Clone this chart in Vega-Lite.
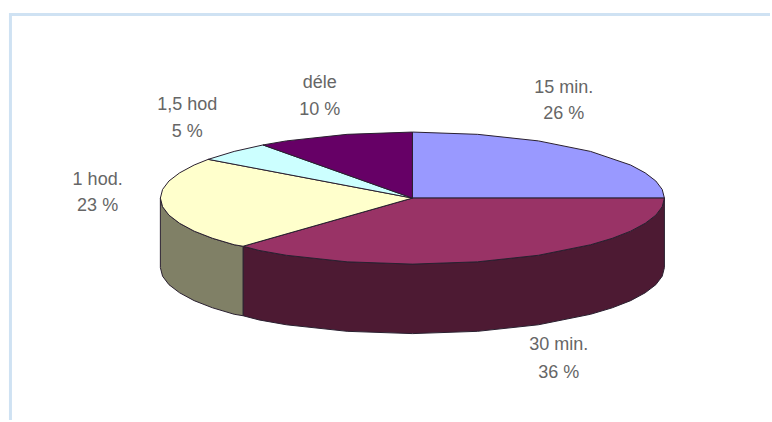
{"$schema":"https://vega.github.io/schema/vega-lite/v6.json","width":772,"height":422,"autosize":{"type":"fit","contains":"padding"},"padding":0,"background":"white","view":{"stroke":null},
"datasets":{"sides":[
{"p":"30 min. side","i":1,"x":666,"y":198.5},{"p":"30 min. side","i":2,"x":663.8,"y":207.2},{"p":"30 min. side","i":3,"x":657.4,"y":215.7},{"p":"30 min. side","i":4,"x":646.7,"y":223.9},{"p":"30 min. side","i":5,"x":632.1,"y":231.8},{"p":"30 min. side","i":6,"x":613.7,"y":239},{"p":"30 min. side","i":7,"x":591.9,"y":245.5},{"p":"30 min. side","i":8,"x":539.5,"y":256.1},{"p":"30 min. side","i":9,"x":478.5,"y":262.7},{"p":"30 min. side","i":10,"x":413,"y":265},{"p":"30 min. side","i":11,"x":347.5,"y":262.7},{"p":"30 min. side","i":12,"x":286.5,"y":256.1},{"p":"30 min. side","i":13,"x":259,"y":251.2},{"p":"30 min. side","i":14,"x":243,"y":247},
{"p":"30 min. side","i":15,"x":243,"y":317},{"p":"30 min. side","i":16,"x":259,"y":321.2},{"p":"30 min. side","i":17,"x":286.5,"y":326.1},{"p":"30 min. side","i":18,"x":347.5,"y":332.7},{"p":"30 min. side","i":19,"x":413,"y":335},{"p":"30 min. side","i":20,"x":478.5,"y":332.7},{"p":"30 min. side","i":21,"x":539.5,"y":326.1},{"p":"30 min. side","i":22,"x":591.9,"y":315.5},{"p":"30 min. side","i":23,"x":613.7,"y":309},{"p":"30 min. side","i":24,"x":632.1,"y":301.8},{"p":"30 min. side","i":25,"x":646.7,"y":293.9},{"p":"30 min. side","i":26,"x":657.4,"y":285.7},{"p":"30 min. side","i":27,"x":663.8,"y":277.2},{"p":"30 min. side","i":28,"x":666,"y":268.5},{"p":"30 min. side","i":29,"x":666,"y":198.5},
{"p":"1 hod. side","i":1,"x":243,"y":247},{"p":"1 hod. side","i":2,"x":234.1,"y":245.5},{"p":"1 hod. side","i":3,"x":212.3,"y":239},{"p":"1 hod. side","i":4,"x":193.9,"y":231.8},{"p":"1 hod. side","i":5,"x":179.3,"y":223.9},{"p":"1 hod. side","i":6,"x":168.6,"y":215.7},{"p":"1 hod. side","i":7,"x":162.2,"y":207.2},{"p":"1 hod. side","i":8,"x":160,"y":198.5},
{"p":"1 hod. side","i":9,"x":160,"y":268.5},{"p":"1 hod. side","i":10,"x":162.2,"y":277.2},{"p":"1 hod. side","i":11,"x":168.6,"y":285.7},{"p":"1 hod. side","i":12,"x":179.3,"y":293.9},{"p":"1 hod. side","i":13,"x":193.9,"y":301.8},{"p":"1 hod. side","i":14,"x":212.3,"y":309},{"p":"1 hod. side","i":15,"x":234.1,"y":315.5},{"p":"1 hod. side","i":16,"x":243,"y":317},{"p":"1 hod. side","i":17,"x":243,"y":247}
],
"tops":[
{"p":"15 min.","share":26,"i":1,"x":413,"y":198.5},{"p":"15 min.","share":26,"i":2,"x":413,"y":132},{"p":"15 min.","share":26,"i":3,"x":478.5,"y":134.3},{"p":"15 min.","share":26,"i":4,"x":539.5,"y":140.9},{"p":"15 min.","share":26,"i":5,"x":591.9,"y":151.5},{"p":"15 min.","share":26,"i":6,"x":632.1,"y":165.2},{"p":"15 min.","share":26,"i":7,"x":646.7,"y":173.1},{"p":"15 min.","share":26,"i":8,"x":657.4,"y":181.3},{"p":"15 min.","share":26,"i":9,"x":663.8,"y":189.8},{"p":"15 min.","share":26,"i":10,"x":666,"y":198.5},{"p":"15 min.","share":26,"i":11,"x":413,"y":198.5},
{"p":"30 min.","share":36,"i":1,"x":413,"y":198.5},{"p":"30 min.","share":36,"i":2,"x":666,"y":198.5},{"p":"30 min.","share":36,"i":3,"x":663.8,"y":207.2},{"p":"30 min.","share":36,"i":4,"x":657.4,"y":215.7},{"p":"30 min.","share":36,"i":5,"x":646.7,"y":223.9},{"p":"30 min.","share":36,"i":6,"x":632.1,"y":231.8},{"p":"30 min.","share":36,"i":7,"x":613.7,"y":239},{"p":"30 min.","share":36,"i":8,"x":591.9,"y":245.5},{"p":"30 min.","share":36,"i":9,"x":539.5,"y":256.1},{"p":"30 min.","share":36,"i":10,"x":478.5,"y":262.7},{"p":"30 min.","share":36,"i":11,"x":413,"y":265},{"p":"30 min.","share":36,"i":12,"x":347.5,"y":262.7},{"p":"30 min.","share":36,"i":13,"x":286.5,"y":256.1},{"p":"30 min.","share":36,"i":14,"x":259,"y":251.2},{"p":"30 min.","share":36,"i":15,"x":243,"y":247},{"p":"30 min.","share":36,"i":16,"x":413,"y":198.5},
{"p":"1 hod.","share":23,"i":1,"x":413,"y":198.5},{"p":"1 hod.","share":23,"i":2,"x":243,"y":247},{"p":"1 hod.","share":23,"i":3,"x":234.1,"y":245.5},{"p":"1 hod.","share":23,"i":4,"x":212.3,"y":239},{"p":"1 hod.","share":23,"i":5,"x":193.9,"y":231.8},{"p":"1 hod.","share":23,"i":6,"x":179.3,"y":223.9},{"p":"1 hod.","share":23,"i":7,"x":168.6,"y":215.7},{"p":"1 hod.","share":23,"i":8,"x":162.2,"y":207.2},{"p":"1 hod.","share":23,"i":9,"x":160,"y":198.5},{"p":"1 hod.","share":23,"i":10,"x":162.2,"y":189.8},{"p":"1 hod.","share":23,"i":11,"x":168.6,"y":181.3},{"p":"1 hod.","share":23,"i":12,"x":179.3,"y":173.1},{"p":"1 hod.","share":23,"i":13,"x":193.9,"y":165.2},{"p":"1 hod.","share":23,"i":14,"x":208,"y":159.5},{"p":"1 hod.","share":23,"i":15,"x":413,"y":198.5},
{"p":"1,5 hod","share":5,"i":1,"x":413,"y":198.5},{"p":"1,5 hod","share":5,"i":2,"x":208,"y":159.5},{"p":"1,5 hod","share":5,"i":3,"x":234.1,"y":151.5},{"p":"1,5 hod","share":5,"i":4,"x":263,"y":145},{"p":"1,5 hod","share":5,"i":5,"x":413,"y":198.5},
{"p":"déle","share":10,"i":1,"x":413,"y":198.5},{"p":"déle","share":10,"i":2,"x":263,"y":145},{"p":"déle","share":10,"i":3,"x":286.5,"y":140.9},{"p":"déle","share":10,"i":4,"x":347.5,"y":134.3},{"p":"déle","share":10,"i":5,"x":413,"y":132},{"p":"déle","share":10,"i":6,"x":413,"y":198.5}
],
"labels":[
{"t":"15 min.","x":565,"y":93},{"t":"26 %","x":565,"y":119},
{"t":"30 min.","x":560,"y":352},{"t":"36 %","x":560,"y":380},
{"t":"1 hod.","x":97,"y":185},{"t":"23 %","x":97,"y":212},
{"t":"1,5 hod","x":187,"y":110},{"t":"5 %","x":187,"y":137},
{"t":"déle","x":320,"y":88},{"t":"10 %","x":320,"y":115}
],
"border":[{"x":9.5,"x2":772,"y":13.5,"y2":13.5},{"x":9.5,"x2":9.5,"y":12,"y2":422}]},
"layer":[
{"data":{"name":"border"},"mark":{"type":"rule","color":"#cfe2f3","strokeWidth":3},"encoding":{"x":{"field":"x","type":"quantitative","scale":{"domain":[-1,771]},"axis":null},"x2":{"field":"x2"},"y":{"field":"y","type":"quantitative","scale":{"domain":[-1,421],"reverse":true},"axis":null},"y2":{"field":"y2"}}},
{"data":{"name":"sides"},"mark":{"type":"line","stroke":"#2a2030","strokeWidth":1,"interpolate":"linear"},"encoding":{"x":{"field":"x","type":"quantitative","scale":{"domain":[-1,771]},"axis":null},"y":{"field":"y","type":"quantitative","scale":{"domain":[-1,421],"reverse":true},"axis":null},"order":{"field":"i","type":"quantitative"},"fill":{"field":"p","type":"nominal","legend":null,"scale":{"domain":["30 min. side","1 hod. side"],"range":["#4d1a33","#808066"]}}}},
{"data":{"name":"tops"},"mark":{"type":"line","stroke":"#2a2030","strokeWidth":1,"interpolate":"linear"},"encoding":{"x":{"field":"x","type":"quantitative","scale":{"domain":[-1,771]},"axis":null},"y":{"field":"y","type":"quantitative","scale":{"domain":[-1,421],"reverse":true},"axis":null},"order":{"field":"i","type":"quantitative"},"fill":{"field":"p","type":"nominal","legend":null,"scale":{"domain":["15 min.","30 min.","1 hod.","1,5 hod","déle"],"range":["#9999ff","#993366","#ffffcc","#ccffff","#660066"]}}}},
{"data":{"name":"labels"},"mark":{"type":"text","font":"Liberation Sans","fontSize":18,"color":"#666666","align":"center","baseline":"alphabetic"},"encoding":{"x":{"field":"x","type":"quantitative","scale":{"domain":[-1,771]},"axis":null},"y":{"field":"y","type":"quantitative","scale":{"domain":[-1,421],"reverse":true},"axis":null},"text":{"field":"t","type":"nominal"}}}
],
"resolve":{"scale":{"fill":"independent"}}}
